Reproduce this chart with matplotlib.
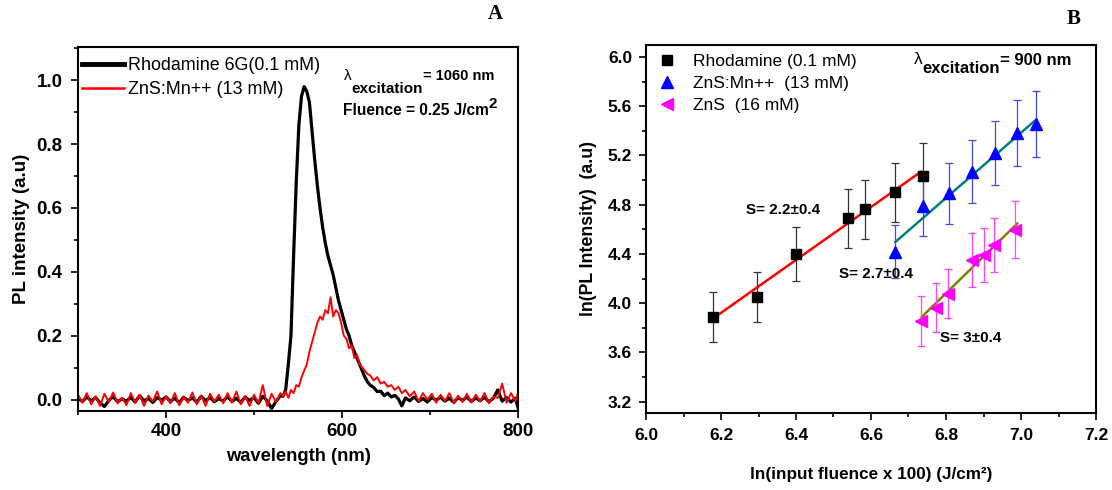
import matplotlib
matplotlib.use('Agg')
import matplotlib.pyplot as plt
from matplotlib.ticker import MultipleLocator
from matplotlib.lines import Line2D

plt.rcParams['font.family'] = ['Liberation Sans', 'DejaVu Sans']

# ---- Panel A: PL spectra ----
wavelength = [
    300, 305, 310, 315, 320, 325, 330, 335, 340, 345, 350, 355, 360, 365, 370, 375,
    380, 385, 390, 395, 400, 405, 410, 415, 420, 425, 430, 435, 440, 445, 450, 455,
    460, 465, 470, 475, 480, 485, 490, 495, 500, 505, 510, 515, 520, 525, 530,
    533, 536, 539, 542, 545, 548, 551, 554, 557, 560, 563, 566, 569, 572, 575, 578,
    581, 584, 587, 590, 593, 596, 599, 602, 605, 608, 611, 614, 617, 620, 623, 626,
    629, 632,
    636, 640, 644, 648, 652, 656, 660, 664, 668,
    672, 677, 682, 687, 692, 697, 702, 707, 712, 717, 722, 727, 732, 737, 742, 747,
    752, 757, 762, 767, 772, 777, 782, 787, 792, 797, 800,
]
rhodamine_pl = [
    0.004, -0.006, 0.008, -0.004, 0.006, -0.010, -0.022, -0.003, 0.009, -0.007, 0.002, -0.005,
    0.007, -0.008, 0.012, -0.004, 0.003, -0.009, 0.006, -0.002, 0.008, -0.006, 0.004, -0.010,
    0.007, -0.003, 0.005, -0.008, 0.010, -0.004, 0.006, -0.007, 0.003, -0.005, 0.009, -0.006,
    0.004, -0.009, 0.008, -0.003, 0.006, -0.012, 0.010, -0.004, -0.028, -0.006, 0.012,
    0.010, 0.030, 0.110, 0.200, 0.450, 0.680, 0.860, 0.950, 0.980, 0.965, 0.930, 0.840,
    0.750, 0.670, 0.600, 0.540, 0.490, 0.450, 0.420, 0.390, 0.350, 0.310, 0.280, 0.250,
    0.220, 0.200, 0.170, 0.150, 0.130, 0.110, 0.090, 0.070, 0.055, 0.045,
    0.038, 0.025, 0.026, 0.012, 0.020, 0.008, 0.013, 0.002, -0.020,
    0.005, -0.004, 0.008, -0.006, 0.003, -0.008, 0.006, -0.002, 0.007, -0.005, 0.004, -0.009,
    0.006, -0.003, 0.008, -0.006, 0.005, -0.004, 0.007, -0.007, 0.004, 0.030, -0.005, 0.006,
    -0.008, 0.004, -0.025,
]
zns_mn_pl = [
    0.015, -0.010, 0.020, -0.015, 0.010, -0.020, 0.018, -0.008, 0.022, -0.012, 0.006, -0.018,
    0.020, -0.010, 0.015, -0.020, 0.012, -0.006, 0.025, -0.015, 0.010, -0.012, 0.020, -0.018,
    0.008, -0.010, 0.022, -0.015, 0.012, -0.020, 0.018, -0.006, 0.015, -0.012, 0.020, -0.010,
    0.025, -0.015, 0.010, -0.020, 0.015, -0.012, 0.045, -0.020, 0.018, -0.008, 0.020,
    0.010, 0.025, 0.005, 0.030, 0.020, 0.045, 0.040, 0.070, 0.090, 0.110, 0.150, 0.180,
    0.210, 0.240, 0.260, 0.250, 0.280, 0.270, 0.320, 0.260, 0.280, 0.270, 0.240, 0.200,
    0.190, 0.160, 0.170, 0.130, 0.140, 0.110, 0.100, 0.090, 0.080, 0.075,
    0.060, 0.070, 0.050, 0.055, 0.040, 0.045, 0.030, 0.040, 0.020,
    0.030, 0.010, 0.025, -0.005, 0.020, 0.000, 0.018, -0.010, 0.015, -0.005, 0.020, -0.012,
    0.012, -0.008, 0.018, -0.010, 0.015, -0.006, 0.020, -0.012, 0.010, 0.005, 0.050, -0.010,
    0.020, -0.005, 0.020,
]

# ---- Panel B: log-log fluence dependence ----
rho_x = [6.178, 6.296, 6.401, 6.540, 6.584, 6.663, 6.738]
rho_y = [3.887, 4.050, 4.397, 4.688, 4.761, 4.899, 5.037]
rho_err = [0.20, 0.20, 0.22, 0.24, 0.24, 0.24, 0.26]

mn_x = [6.663, 6.738, 6.807, 6.870, 6.931, 6.988, 7.040]
mn_y = [4.416, 4.787, 4.891, 5.067, 5.216, 5.384, 5.455]
mn_err = [0.215, 0.24, 0.245, 0.255, 0.26, 0.27, 0.27]

zns_x = [6.733, 6.774, 6.804, 6.868, 6.900, 6.928, 6.983]
zns_y = [3.855, 3.963, 4.077, 4.354, 4.389, 4.470, 4.598]
zns_err = [0.20, 0.20, 0.20, 0.22, 0.22, 0.22, 0.23]

# fitted lines (end points)
rho_fit_x, rho_fit_y = [6.178, 6.733], [3.874, 5.067]
mn_fit_x, mn_fit_y = [6.665, 7.041], [4.497, 5.493]
zns_fit_x, zns_fit_y = [6.735, 6.990], [3.887, 4.647]

W, H = 1112, 490
fig = plt.figure(figsize=(W / 100, H / 100), dpi=100)
renderer = fig.canvas.get_renderer()


def px_box(l, t, r, b):
    return [l / W, 1 - b / H, (r - l) / W, (b - t) / H]


def chain_text(x, pieces):
    # draw text pieces one after another, each starting where the last ended
    for txt, base_y, size, weight in pieces:
        t = fig.text(x / W, 1 - base_y / H, txt, fontsize=size, fontweight=weight,
                     ha='left', va='baseline')
        x = t.get_window_extent(renderer=renderer).x1


def style_axes(ax, fs, xpad, ypad):
    for s in ax.spines.values():
        s.set_linewidth(1.5)
    ax.tick_params(which='both', direction='out', top=False, right=False, width=1.2)
    ax.tick_params(which='major', length=5, labelsize=fs)
    ax.tick_params(which='minor', length=3.2)
    ax.tick_params(axis='x', pad=xpad)
    ax.tick_params(axis='y', pad=ypad)
    for lab in ax.get_xticklabels() + ax.get_yticklabels():
        lab.set_fontweight('bold')


# Panel A
ax1 = fig.add_axes(px_box(78, 47, 518, 411))
ax1.plot(wavelength, rhodamine_pl, color='black', lw=2.3)
ax1.plot(wavelength, zns_mn_pl, color='red', lw=1.4)
ax1.set_xlim(300, 800)
ax1.set_ylim(-0.036, 1.104)
ax1.xaxis.set_major_locator(MultipleLocator(200))
ax1.xaxis.set_minor_locator(MultipleLocator(100))
ax1.yaxis.set_major_locator(MultipleLocator(0.2))
ax1.yaxis.set_minor_locator(MultipleLocator(0.1))
style_axes(ax1, 13.5, 3.5, 6)
ax1.set_xlabel('wavelength (nm)', fontsize=13.2, fontweight='bold', labelpad=6)
ax1.set_ylabel('PL intensity (a.u)', fontsize=13.5, fontweight='bold', labelpad=5)
leg_a = [Line2D([], [], color='black', lw=3.5), Line2D([], [], color='red', lw=1.8)]
ax1.legend(leg_a, ['Rhodamine 6G(0.1 mM)', 'ZnS:Mn++ (13 mM)'], loc='upper left',
           bbox_to_anchor=(0.009, 0.972), frameon=False, fontsize=12.9, borderpad=0,
           borderaxespad=0, handlelength=2.35, handletextpad=0.22, labelspacing=0.4)

chain_text(344, [('λ', 80, 11, 'normal'), ('excitation', 93, 11, 'bold'),
                 ('= 1060 nm', 80, 10.5, 'bold')])
chain_text(343, [('Fluence = 0.25 J/cm', 115, 11.2, 'bold'), ('2', 108, 11, 'bold')])
fig.text(495 / W, 1 - 14 / H, 'A', fontsize=15, fontweight='bold', family='Liberation Serif',
         ha='center', va='center')

# Panel B
ax2 = fig.add_axes(px_box(646, 45, 1096, 413))
ax2.plot(rho_fit_x, rho_fit_y, color='red', lw=1.8, zorder=2)
ax2.plot(mn_fit_x, mn_fit_y, color='#008080', lw=1.8, zorder=2)
ax2.plot(zns_fit_x, zns_fit_y, color='#808000', lw=1.8, zorder=2)
ax2.errorbar(rho_x, rho_y, yerr=rho_err, fmt='s', color='black', ecolor='#333333',
             ms=7.5, elinewidth=0.9, capsize=3, capthick=0.9, zorder=3)
ax2.errorbar(mn_x, mn_y, yerr=mn_err, fmt='^', color='#0000ff', ecolor='#4444ff',
             ms=9, elinewidth=0.9, capsize=3, capthick=0.9, zorder=3)
ax2.errorbar(zns_x, zns_y, yerr=zns_err, fmt='<', color='#ff00ff', ecolor='#ff44ff',
             ms=9, elinewidth=0.9, capsize=3, capthick=0.9, zorder=3)
ax2.set_xlim(6.0, 7.2)
ax2.set_ylim(3.108, 6.097)
ax2.xaxis.set_major_locator(MultipleLocator(0.2))
ax2.xaxis.set_minor_locator(MultipleLocator(0.1))
ax2.yaxis.set_major_locator(MultipleLocator(0.4))
ax2.yaxis.set_minor_locator(MultipleLocator(0.2))
style_axes(ax2, 12.5, 6, 5)
ax2.set_xlabel('ln(input fluence x 100) (J/cm²)', fontsize=12.3, fontweight='bold', labelpad=17)
ax2.set_ylabel('ln(PL Intensity)  (a.u)', fontsize=12.8, fontweight='bold', labelpad=8)
leg_b = [Line2D([], [], ls='none', marker='s', color='black', ms=7.5),
         Line2D([], [], ls='none', marker='^', color='#0000ff', ms=9),
         Line2D([], [], ls='none', marker='<', color='#ff00ff', ms=9)]
ax2.legend(leg_b, ['Rhodamine (0.1 mM)', 'ZnS:Mn++  (13 mM)', 'ZnS  (16 mM)'],
           loc='upper left', bbox_to_anchor=(0.029, 0.977), frameon=False, fontsize=12.5,
           borderpad=0, borderaxespad=0, handlelength=0.92, handletextpad=1.03,
           labelspacing=0.4)

ax2.text(6.266, 4.76, 'S= 2.2±0.4', fontsize=11, fontweight='bold', ha='left', va='center')
ax2.text(6.514, 4.24, 'S= 2.7±0.4', fontsize=11, fontweight='bold', ha='left', va='center')
ax2.text(6.785, 3.72, 'S= 3±0.4', fontsize=11, fontweight='bold', ha='left', va='center')

chain_text(914, [('λ', 64, 12.5, 'normal'), ('excitation', 73, 12, 'bold'),
                 ('= 900 nm', 65, 12, 'bold')])
fig.text(1074 / W, 1 - 19 / H, 'B', fontsize=15, fontweight='bold', family='Liberation Serif',
         ha='center', va='center')

fig.savefig('out.png', dpi=100)
